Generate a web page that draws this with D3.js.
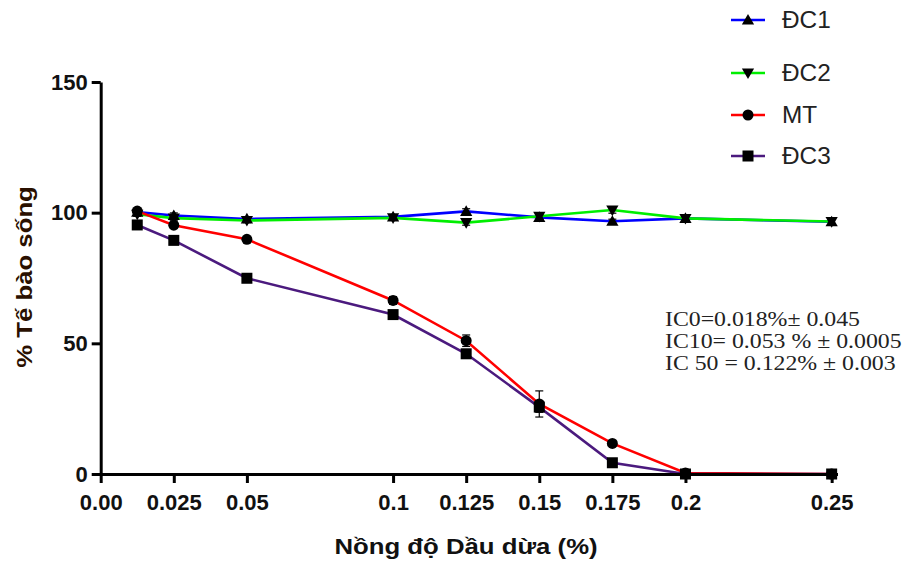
<!DOCTYPE html>
<html>
<head>
<meta charset="utf-8">
<script src="https://cdn.jsdelivr.net/npm/d3@7"></script>
<style>
  body { margin: 0; background: #fff; }
  svg { font-family: "Liberation Sans", Arial, sans-serif; }
</style>
</head>
<body>
<div id="root"></div>
<script>
// concentrations (%)
const doses = [0.0125, 0.025, 0.05, 0.1, 0.125, 0.15, 0.175, 0.2, 0.25];
const xTicks = [0, 0.025, 0.05, 0.1, 0.125, 0.15, 0.175, 0.2, 0.25];
const xTickLabels = ["0.00", "0.025", "0.05", "0.1", "0.125", "0.15", "0.175", "0.2", "0.25"];
const yTicks = [0, 50, 100, 150];

// % viable cells
const dc1 = [100.2, 98.9, 97.6, 98.4, 100.5, 98.2, 96.7, 97.8, 96.5];
const dc2 = [99.4, 97.9, 97.0, 98.0, 96.2, 98.6, 101.0, 97.8, 96.6];
const mt = [100.6, 95.2, 89.8, 66.4, 51.0, 26.8, 11.7, 0.4, 0.0];
const dc3 = [95.3, 89.4, 74.9, 61.0, 46.0, 25.6, 4.3, 0.0, 0.0];

// error (SD)
const dc1Err = [0.8, 1.0, 0.8, 0.8, 1.0, 1.2, 0.8, 1.0, 1.2];
const dc2Err = [0.8, 1.0, 0.8, 0.8, 1.0, 1.2, 1.2, 1.0, 1.2];
const mtErr = [0.8, 1.0, 0.6, 1.5, 2.2, 5.0, 0.8, 0.6, 0.4];
const dc3Err = [0.8, 0.6, 0.6, 0.8, 1.0, 2.0, 0.6, 0.4, 0.4];

const seriesNames = ["ĐC1", "ĐC2", "MT", "ĐC3"];
const notes = ["IC0=0.018%\u00b1 0.045", "IC10= 0.053 % \u00b1 0.0005", "IC 50 = 0.122% \u00b1 0.003"];

const series = [
  { name: seriesNames[0], values: dc1, err: dc1Err, color: "#0000ff", symbol: "up" },
  { name: seriesNames[1], values: dc2, err: dc2Err, color: "#00ee00", symbol: "down" },
  { name: seriesNames[2], values: mt, err: mtErr, color: "#ff0000", symbol: "circle" },
  { name: seriesNames[3], values: dc3, err: dc3Err, color: "#4b1a7e", symbol: "square" }
];

const w = 904;
const h = 563;

const svg = d3.select("#root")
  .append("svg")
  .attr("width", w)
  .attr("height", h);

const x = d3.scaleLinear().domain([0, 0.252]).range([100.7, 837.5]);
const y = d3.scaleLinear().domain([0, 150]).range([474, 82]);

// the source image is a bit wider than tall, so text gets stretched sideways
function stretchedText(px, py, k, rot) {
  return svg.append("text")
    .attr("transform", `translate(${px},${py})${rot ? ` rotate(${rot})` : ""} scale(${k},1)`);
}

// symbols
const triUp = d3.symbol().type(d3.symbolTriangle).size(65);
function drawMarker(g, type, cx, cy) {
  if (type === "up") {
    g.append("path").attr("d", triUp()).attr("transform", `translate(${cx},${cy + 1})`).attr("fill", "#000");
  } else if (type === "down") {
    g.append("path").attr("d", triUp()).attr("transform", `translate(${cx},${cy - 1}) rotate(180)`).attr("fill", "#000");
  } else if (type === "circle") {
    g.append("circle").attr("cx", cx).attr("cy", cy).attr("r", 5.5).attr("fill", "#000");
  } else {
    g.append("rect").attr("x", cx - 5.5).attr("y", cy - 5.5).attr("width", 11).attr("height", 11).attr("fill", "#000");
  }
}

// series lines, error bars, markers
const line = d3.line().x(d => x(d[0])).y(d => y(d[1]));

series.forEach(s => {
  const pts = doses.map((d, i) => [d, s.values[i]]);
  svg.append("path")
    .datum(pts)
    .attr("d", line)
    .attr("fill", "none")
    .attr("stroke", s.color)
    .attr("stroke-width", 2.6);
});

series.forEach(s => {
  const g = svg.append("g");
  doses.forEach((d, i) => {
    const cx = x(d);
    const y1 = y(s.values[i] + s.err[i]);
    const y2 = y(s.values[i] - s.err[i]);
    g.append("line").attr("x1", cx).attr("x2", cx).attr("y1", y1).attr("y2", y2)
      .attr("stroke", "#000").attr("stroke-width", 1.2);
    [y1, y2].forEach(yy => {
      g.append("line").attr("x1", cx - 4).attr("x2", cx + 4).attr("y1", yy).attr("y2", yy)
        .attr("stroke", "#000").attr("stroke-width", 1.2);
    });
    drawMarker(g, s.symbol, cx, y(s.values[i]));
  });
});

// axes
const xAxis = svg.append("g")
  .attr("transform", `translate(0,${y(0)})`)
  .call(d3.axisBottom(x).tickValues(xTicks).tickFormat((d, i) => xTickLabels[i]).tickSize(9).tickSizeOuter(0).tickPadding(11));

const yAxis = svg.append("g")
  .attr("transform", `translate(${x(0)},0)`)
  .call(d3.axisLeft(y).tickValues(yTicks).tickSize(9).tickSizeOuter(0).tickPadding(4));

[xAxis, yAxis].forEach(a => {
  a.select(".domain").attr("stroke", "#000").attr("stroke-width", 3);
  a.selectAll(".tick line").attr("stroke", "#000").attr("stroke-width", 3);
  a.selectAll(".tick text")
    .attr("fill", "#111")
    .style("font-size", "22px")
    .style("font-weight", "bold")
    .style("font-family", "'Liberation Sans', Arial, sans-serif");
});

// axis titles
stretchedText(466, 554, 1.12)
  .attr("text-anchor", "middle")
  .style("font-size", "23px")
  .style("font-weight", "bold")
  .attr("fill", "#111")
  .text("Nồng độ Dầu dừa (%)");

stretchedText(32, 277, 1.12, -90)
  .attr("text-anchor", "middle")
  .style("font-size", "23px")
  .style("font-weight", "bold")
  .attr("fill", "#2a1000")
  .text("% Tế bào sống");

// legend
const legendY = [20, 73, 115, 156];
series.forEach((s, i) => {
  const g = svg.append("g");
  g.append("line")
    .attr("x1", 731).attr("x2", 765)
    .attr("y1", legendY[i]).attr("y2", legendY[i])
    .attr("stroke", s.color).attr("stroke-width", 2.6);
  drawMarker(g, s.symbol, 748, legendY[i]);
  stretchedText(782, legendY[i] + 8, 1.06)
    .style("font-size", "23px")
    .attr("fill", "#222")
    .text(s.name);
});

// IC notes
notes.forEach((t, i) => {
  stretchedText(665, 326 + i * 22.2, 1.19)
    .style("font-family", "'Liberation Serif', 'Times New Roman', serif")
    .style("font-size", "20px")
    .attr("fill", "#222")
    .text(t);
});
</script>
</body>
</html>
